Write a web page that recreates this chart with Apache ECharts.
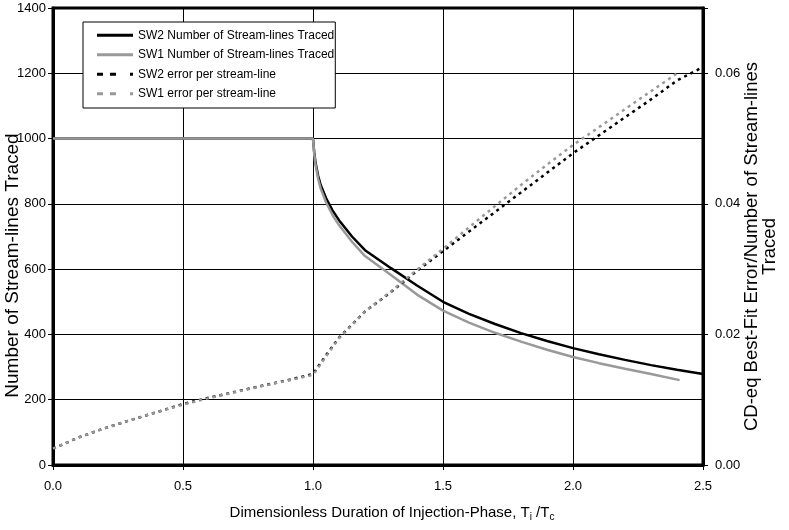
<!DOCTYPE html>
<html><head><meta charset="utf-8">
<script src="https://cdn.jsdelivr.net/npm/echarts@6/dist/echarts.min.js"></script>
<style>html,body{margin:0;padding:0;background:#fff}#c{width:789px;height:530px}</style>
</head><body><div id="c"></div>
<script>
// Number of stream-lines traced (left axis)
const sw2NumX = [0, 0.5, 1.0, 1.005, 1.01, 1.02, 1.03, 1.05, 1.075, 1.1, 1.15, 1.2, 1.3, 1.4, 1.5, 1.6, 1.7, 1.8, 1.9, 2.0, 2.1, 2.2, 2.3, 2.4, 2.5];
const sw2NumY = [1000, 1000, 1000, 955, 925, 885, 857, 818, 780, 750, 700, 658, 603, 550, 500, 463, 432, 404, 380, 358, 339, 322, 306, 292, 279];
const sw1NumX = [0, 0.5, 1.0, 1.005, 1.01, 1.02, 1.03, 1.05, 1.075, 1.1, 1.15, 1.2, 1.3, 1.4, 1.5, 1.6, 1.7, 1.8, 1.9, 2.0, 2.1, 2.2, 2.3, 2.41];
const sw1NumY = [1000, 1000, 1000, 950, 918, 876, 846, 805, 766, 735, 684, 640, 582, 522, 473, 436, 405, 378, 353, 331, 312, 295, 279, 260];
// Error per stream-line (right axis)
const sw2ErrX = [0, 0.1, 0.2, 0.3, 0.4, 0.5, 0.6, 0.7, 0.8, 0.9, 1.0, 1.05, 1.1, 1.2, 1.3, 1.4, 1.5, 1.6, 1.7, 1.8, 1.9, 2.0, 2.1, 2.2, 2.3, 2.4, 2.5];
const sw2ErrY = [0.0025, 0.00425, 0.00565, 0.0069, 0.0081, 0.00935, 0.0103, 0.0112, 0.0121, 0.01295, 0.01395, 0.0168, 0.0195, 0.0235, 0.0265, 0.02975, 0.03275, 0.03575, 0.03875, 0.04175, 0.04475, 0.04775, 0.0505, 0.05325, 0.056, 0.0589, 0.06095];
const sw1ErrX = [0, 0.1, 0.2, 0.3, 0.4, 0.5, 0.6, 0.7, 0.8, 0.9, 1.0, 1.05, 1.1, 1.2, 1.3, 1.4, 1.5, 1.6, 1.7, 1.8, 1.9, 2.0, 2.1, 2.2, 2.3, 2.41];
const sw1ErrY = [0.0025, 0.00425, 0.00565, 0.0069, 0.0081, 0.00925, 0.01025, 0.01115, 0.01205, 0.0129, 0.0138, 0.0166, 0.0194, 0.0235, 0.0266, 0.0299, 0.0331, 0.0364, 0.03965, 0.0429, 0.046, 0.049, 0.05175, 0.0545, 0.05725, 0.06025];
const xTicks = [0, 0.5, 1.0, 1.5, 2.0, 2.5];
const leftTicks = [0, 200, 400, 600, 800, 1000, 1200, 1400];
const rightTicks = [0, 0.02, 0.04, 0.06];
const names = ['SW2 Number of Stream-lines Traced', 'SW1 Number of Stream-lines Traced', 'SW2 error per stream-line', 'SW1 error per stream-line'];

const pairs = (xs, ys) => xs.map((x, i) => [x, ys[i]]);
const FONT = 'Liberation Sans, Arial, sans-serif';
const SOLID_ICON = 'path://M0,0H36V3H0Z';
const DOT_ICON = 'path://M0,0H6V3H0Z M13,0H19V3H13Z M33,0H36V3H33Z';
const chart = echarts.init(document.getElementById('c'), null, {renderer: 'canvas'});
chart.setOption({
  animation: false,
  textStyle: {fontFamily: FONT, color: '#000'},
  grid: {left: 53, right: 86, top: 8, bottom: 65, outerBoundsMode: 'none', containLabel: false,
    show: true, borderColor: '#000', borderWidth: 3, backgroundColor: 'transparent'},
  legend: {
    orient: 'vertical', left: 83, top: 22,
    data: [
      {name: names[0], icon: SOLID_ICON},
      {name: names[1], icon: SOLID_ICON},
      {name: names[2], icon: DOT_ICON},
      {name: names[3], icon: DOT_ICON}
    ],
    backgroundColor: '#fff', borderColor: '#000', borderWidth: 1, borderRadius: 0,
    padding: [6, 1, 7, 14], itemGap: 5, itemWidth: 36, itemHeight: 3, itemTextGap: 3, symbolKeepAspect: false,
    textStyle: {fontFamily: FONT, fontSize: 12, color: '#000', lineHeight: 14.5}
  },
  xAxis: {
    type: 'value', min: xTicks[0], max: xTicks[xTicks.length - 1], interval: xTicks[1] - xTicks[0],
    name: '{a|Dimensionless Duration of Injection-Phase, T}{s|i}{a| /T}{s|c}',
    nameLocation: 'middle', nameGap: 39, nameMoveOverlap: false,
    nameTextStyle: {padding: [0, 0, 0, 28], rich: {a: {fontFamily: FONT, fontSize: 15, color: '#000', lineHeight: 18}, s: {fontFamily: FONT, fontSize: 10, color: '#000', lineHeight: 18, padding: [9, 0, 0, 0]}}},
    axisLine: {show: true, lineStyle: {color: '#000', width: 3}},
    axisTick: {show: true, length: 5, lineStyle: {color: '#000', width: 1}},
    axisLabel: {fontFamily: FONT, fontSize: 13, color: '#000', margin: 15, formatter: v => v.toFixed(1)},
    splitLine: {show: true, lineStyle: {color: '#000', width: 1}}
  },
  yAxis: [{
    type: 'value', min: leftTicks[0], max: leftTicks[leftTicks.length - 1], interval: leftTicks[1] - leftTicks[0],
    name: 'Number of Stream-lines Traced', nameLocation: 'middle', nameGap: 31, nameMoveOverlap: false,
    nameTextStyle: {fontFamily: FONT, fontSize: 19, color: '#000', padding: [0, 58, 0, 0]},
    axisLine: {show: true, lineStyle: {color: '#000', width: 3}},
    axisTick: {show: true, length: 5, lineStyle: {color: '#000', width: 1}},
    axisLabel: {fontFamily: FONT, fontSize: 13, color: '#000', margin: 7, formatter: v => String(v)},
    splitLine: {show: true, lineStyle: {color: '#000', width: 1}}
  }, {
    type: 'value', min: 0, max: 0.07, interval: 0.02, position: 'right',
    name: 'CD-eq Best-Fit Error/Number of Stream-lines\nTraced', nameLocation: 'middle', nameGap: 40, nameMoveOverlap: false,
    nameRotate: 90,
    nameTextStyle: {fontFamily: FONT, fontSize: 18.5, color: '#000', lineHeight: 18, align: 'center', verticalAlign: 'top', padding: [0, 20, 0, 0]},
    axisLine: {show: true, lineStyle: {color: '#000', width: 3}},
    axisTick: {show: true, length: 5, lineStyle: {color: '#000', width: 1}},
    axisLabel: {fontFamily: FONT, fontSize: 13, color: '#000', margin: 12,
      formatter: v => rightTicks.some(t => Math.abs(t - v) < 1e-9) ? v.toFixed(2) : ''},
    splitLine: {show: false}
  }],
  series: [
    {name: names[0], type: 'line', yAxisIndex: 0, symbol: 'none', data: pairs(sw2NumX, sw2NumY), lineStyle: {color: '#000', width: 2.5}, itemStyle: {color: '#000'}, z: 3},
    {name: names[1], type: 'line', yAxisIndex: 0, symbol: 'none', data: pairs(sw1NumX, sw1NumY), lineStyle: {color: '#999', width: 2.5}, itemStyle: {color: '#999'}, z: 4},
    {name: names[2], type: 'line', yAxisIndex: 1, symbol: 'none', data: pairs(sw2ErrX, sw2ErrY), lineStyle: {color: '#000', width: 2.5, type: [3, 4]}, itemStyle: {color: '#000'}, z: 5},
    {name: names[3], type: 'line', yAxisIndex: 1, symbol: 'none', data: pairs(sw1ErrX, sw1ErrY), lineStyle: {color: '#999', width: 2.5, type: [3, 4]}, itemStyle: {color: '#999'}, z: 6}
  ]
});
</script></body></html>
